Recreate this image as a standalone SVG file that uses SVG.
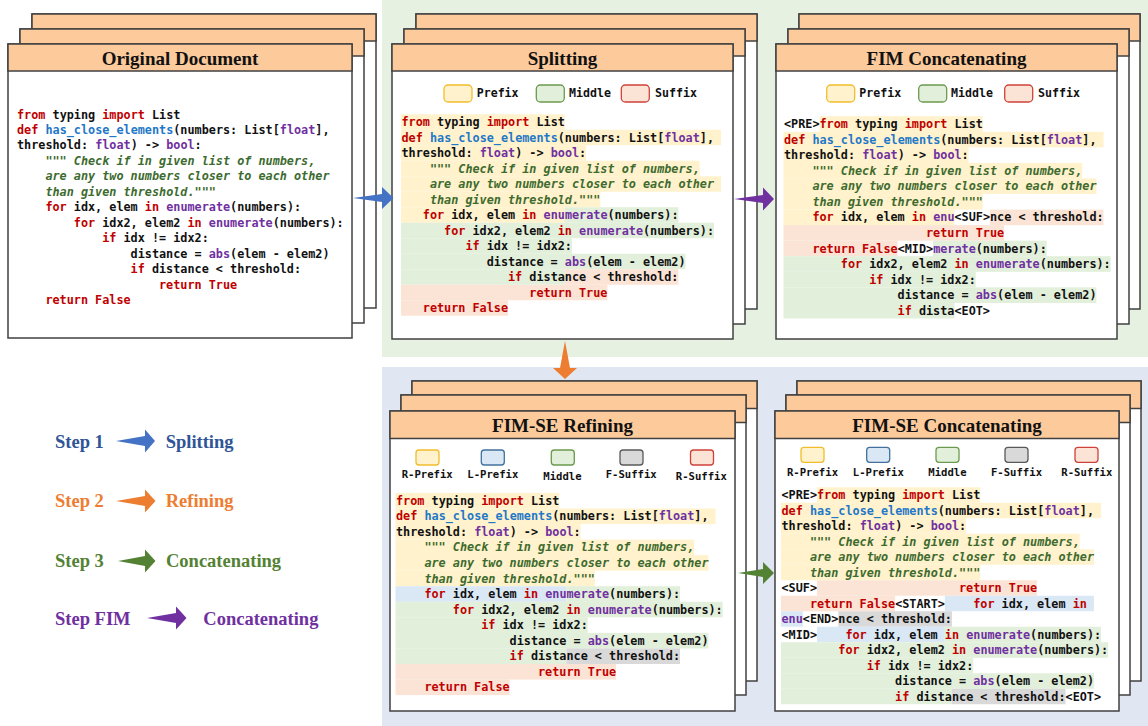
<svg xmlns="http://www.w3.org/2000/svg" width="1148" height="726" viewBox="0 0 1148 726">
<style>
.pg{fill:#fff;stroke:#404040;stroke-width:1.5}
.hd{fill:#fdca9b;stroke:#404040;stroke-width:1.5}
.tt{font-family:"Liberation Serif",serif;font-weight:bold;font-size:19px;fill:#111;text-anchor:middle}
.c{font-family:"DejaVu Sans Mono",monospace;font-size:11.8px;font-weight:bold;fill:#111}
.k{fill:#c00000}.f{fill:#1f78c8}.b{fill:#7030a0}.d{fill:#3d6b2f;font-style:italic}
.hy{fill:#fff2cc}.hg{fill:#e2efda}.hp{fill:#fbe4d5}.hb{fill:#dae8f5}.hx{fill:#d9d9d9}
.lg{font-family:"DejaVu Sans Mono",monospace;font-weight:bold;font-size:11.6px;fill:#111}
.lg2{font-family:"DejaVu Sans Mono",monospace;font-weight:bold;font-size:10.6px;fill:#111;text-anchor:middle}
.sy{fill:#fff2cc;stroke:#f2bd2c;stroke-width:1.3}
.sg{fill:#e2efda;stroke:#6b9a4e;stroke-width:1.3}
.sp{fill:#fbe4d5;stroke:#d0413a;stroke-width:1.3}
.sb{fill:#dae8f5;stroke:#41719c;stroke-width:1.3}
.sx{fill:#d9d9d9;stroke:#595959;stroke-width:1.3}
.st{font-family:"Liberation Serif",serif;font-weight:bold;font-size:18.5px}
</style>
<rect x="382" y="0" width="766" height="357" fill="#e7f1e1"/>
<rect x="382" y="367" width="766" height="359" fill="#e0e7f3"/>

<g id="original">
<rect class="pg" x="32" y="14" width="344" height="294"/><rect class="hd" x="32" y="14" width="344" height="27"/>
<rect class="pg" x="20" y="29" width="344" height="294"/><rect class="hd" x="20" y="29" width="344" height="27"/>
<rect class="pg" x="8" y="44" width="344" height="294"/><rect class="hd" x="8" y="44" width="344" height="27"/>
<text class="tt" x="180" y="65">Original Document</text>
<text class="c" x="17" y="118.5"><tspan class="k">from</tspan> typing <tspan class="k">import</tspan> List</text>
<text class="c" x="17" y="134"><tspan class="k">def</tspan> <tspan class="f">has_close_elements</tspan>(numbers: List[<tspan class="b">float</tspan>],</text>
<text class="c" x="17" y="149.4">threshold: <tspan class="b">float</tspan>) -&gt; <tspan class="b">bool</tspan>:</text>
<text class="c d" x="45.4" y="164.9">""" Check if in given list of numbers,</text>
<text class="c d" x="45.4" y="180.3">are any two numbers closer to each other</text>
<text class="c d" x="45.4" y="195.8">than given threshold."""</text>
<text class="c" x="45.4" y="211.2"><tspan class="k">for</tspan> idx, elem <tspan class="k">in</tspan> <tspan class="b">enumerate</tspan>(numbers):</text>
<text class="c" x="73.8" y="226.7"><tspan class="k">for</tspan> idx2, elem2 <tspan class="k">in</tspan> <tspan class="b">enumerate</tspan>(numbers):</text>
<text class="c" x="102.2" y="242.1"><tspan class="k">if</tspan> idx != idx2:</text>
<text class="c" x="130.6" y="257.6">distance = <tspan class="b">abs</tspan>(elem - elem2)</text>
<text class="c" x="130.6" y="273"><tspan class="k">if</tspan> distance &lt; threshold:</text>
<text class="c k" x="159" y="288.5">return True</text>
<text class="c k" x="45.4" y="303.9">return False</text>
</g>

<g id="splitting">
<rect class="pg" x="416" y="14" width="341" height="295"/><rect class="hd" x="416" y="14" width="341" height="27"/>
<rect class="pg" x="404" y="29" width="341" height="295"/><rect class="hd" x="404" y="29" width="341" height="27"/>
<rect class="pg" x="392" y="44" width="341" height="295"/><rect class="hd" x="392" y="44" width="341" height="27"/>
<text class="tt" x="562.5" y="65">Splitting</text>
<rect class="sy" x="444" y="85" width="28" height="17" rx="4"/><text class="lg" x="476.7" y="97">Prefix</text>
<rect class="sg" x="536.3" y="85" width="28" height="17" rx="4"/><text class="lg" x="569" y="97">Middle</text>
<rect class="sp" x="621.3" y="85" width="28" height="17" rx="4"/><text class="lg" x="655" y="97">Suffix</text>
<rect class="hy" x="401" y="114.25" width="163.8" height="15.5"/>
<rect class="hy" x="401" y="129.75" width="320" height="15.5"/>
<rect class="hy" x="401" y="145.25" width="185.1" height="15.5"/>
<rect class="hy" x="401" y="160.75" width="298.7" height="15.5"/>
<rect class="hy" x="401" y="176.25" width="320" height="15.5"/>
<rect class="hy" x="401" y="191.75" width="199.3" height="15.5"/>
<rect class="hy" x="401" y="207.25" width="163.8" height="15.5"/>
<rect class="hg" x="564.8" y="207.25" width="113.6" height="15.5"/>
<rect class="hg" x="401" y="222.75" width="312.9" height="15.5"/>
<rect class="hg" x="401" y="238.25" width="170.9" height="15.5"/>
<rect class="hg" x="401" y="253.75" width="284.5" height="15.5"/>
<rect class="hg" x="401" y="269.25" width="163.8" height="15.5"/>
<rect class="hp" x="564.8" y="269.25" width="113.6" height="15.5"/>
<rect class="hp" x="401" y="284.75" width="206.4" height="15.5"/>
<rect class="hp" x="401" y="300.25" width="107" height="15.5"/>
<text class="c" x="401.5" y="126"><tspan class="k">from</tspan> typing <tspan class="k">import</tspan> List</text>
<text class="c" x="401.5" y="141.5"><tspan class="k">def</tspan> <tspan class="f">has_close_elements</tspan>(numbers: List[<tspan class="b">float</tspan>],</text>
<text class="c" x="401.5" y="157">threshold: <tspan class="b">float</tspan>) -&gt; <tspan class="b">bool</tspan>:</text>
<text class="c d" x="429.9" y="172.5">""" Check if in given list of numbers,</text>
<text class="c d" x="429.9" y="188">are any two numbers closer to each other</text>
<text class="c d" x="429.9" y="203.5">than given threshold."""</text>
<text class="c" x="422.8" y="219"><tspan class="k">for</tspan> idx, elem <tspan class="k">in</tspan> <tspan class="b">enumerate</tspan>(numbers):</text>
<text class="c" x="444.1" y="234.5"><tspan class="k">for</tspan> idx2, elem2 <tspan class="k">in</tspan> <tspan class="b">enumerate</tspan>(numbers):</text>
<text class="c" x="465.4" y="250"><tspan class="k">if</tspan> idx != idx2:</text>
<text class="c" x="486.7" y="265.5">distance = <tspan class="b">abs</tspan>(elem - elem2)</text>
<text class="c" x="508" y="281"><tspan class="k">if</tspan> distance &lt; threshold:</text>
<text class="c k" x="529.3" y="296.5">return True</text>
<text class="c k" x="422.8" y="312">return False</text>
</g>

<g id="fim-concatenating">
<rect class="pg" x="799" y="14" width="341" height="295"/><rect class="hd" x="799" y="14" width="341" height="27"/>
<rect class="pg" x="788" y="29" width="341" height="295"/><rect class="hd" x="788" y="29" width="341" height="27"/>
<rect class="pg" x="776" y="44" width="341" height="295"/><rect class="hd" x="776" y="44" width="341" height="27"/>
<text class="tt" x="946.5" y="65">FIM Concatenating</text>
<rect class="sy" x="826.7" y="85" width="28" height="17" rx="4"/><text class="lg" x="859.3" y="97">Prefix</text>
<rect class="sg" x="918.7" y="85" width="28" height="17" rx="4"/><text class="lg" x="951" y="97">Middle</text>
<rect class="sp" x="1004.7" y="85" width="28" height="17" rx="4"/><text class="lg" x="1038" y="97">Suffix</text>
<rect class="hy" x="819.5" y="116.2" width="163.3" height="15.6"/>
<rect class="hy" x="783.5" y="131.8" width="320" height="15.6"/>
<rect class="hy" x="783.5" y="147.3" width="185.1" height="15.6"/>
<rect class="hy" x="783.5" y="162.9" width="298.7" height="15.6"/>
<rect class="hy" x="783.5" y="178.4" width="312.9" height="15.6"/>
<rect class="hy" x="783.5" y="194" width="199.3" height="15.6"/>
<rect class="hy" x="783.5" y="209.6" width="170.9" height="15.6"/>
<rect class="hp" x="989.9" y="209.6" width="113.6" height="15.6"/>
<rect class="hp" x="783.5" y="225.1" width="220.6" height="15.6"/>
<rect class="hp" x="783.5" y="240.7" width="114.1" height="15.6"/>
<rect class="hg" x="933.1" y="240.7" width="113.6" height="15.6"/>
<rect class="hg" x="783.5" y="256.2" width="327.1" height="15.6"/>
<rect class="hg" x="783.5" y="271.8" width="192.2" height="15.6"/>
<rect class="hg" x="783.5" y="287.4" width="312.9" height="15.6"/>
<rect class="hg" x="783.5" y="302.9" width="170.9" height="15.6"/>
<text class="c" x="784" y="128">&lt;PRE&gt;<tspan class="k">from</tspan> typing <tspan class="k">import</tspan> List</text>
<text class="c" x="784" y="143.6"><tspan class="k">def</tspan> <tspan class="f">has_close_elements</tspan>(numbers: List[<tspan class="b">float</tspan>],</text>
<text class="c" x="784" y="159.1">threshold: <tspan class="b">float</tspan>) -&gt; <tspan class="b">bool</tspan>:</text>
<text class="c d" x="812.4" y="174.7">""" Check if in given list of numbers,</text>
<text class="c d" x="812.4" y="190.2">are any two numbers closer to each other</text>
<text class="c d" x="812.4" y="205.8">than given threshold."""</text>
<text class="c" x="812.4" y="221.4"><tspan class="k">for</tspan> idx, elem <tspan class="k">in</tspan> <tspan class="b">enu</tspan>&lt;SUF&gt;nce &lt; threshold:</text>
<text class="c k" x="926" y="236.9">return True</text>
<text class="c" x="812.4" y="252.5"><tspan class="k">return False</tspan>&lt;MID&gt;<tspan class="b">merate</tspan>(numbers):</text>
<text class="c" x="840.8" y="268"><tspan class="k">for</tspan> idx2, elem2 <tspan class="k">in</tspan> <tspan class="b">enumerate</tspan>(numbers):</text>
<text class="c" x="869.2" y="283.6"><tspan class="k">if</tspan> idx != idx2:</text>
<text class="c" x="897.6" y="299.2">distance = <tspan class="b">abs</tspan>(elem - elem2)</text>
<text class="c" x="897.6" y="314.7"><tspan class="k">if</tspan> dista&lt;EOT&gt;</text>
</g>

<g id="fim-se-refining">
<rect class="pg" x="412" y="381" width="345" height="300"/><rect class="hd" x="412" y="381" width="345" height="27.5"/>
<rect class="pg" x="401" y="395" width="345" height="300"/><rect class="hd" x="401" y="395" width="345" height="27.5"/>
<rect class="pg" x="390" y="411" width="345" height="300"/><rect class="hd" x="390" y="411" width="345" height="27.5"/>
<text class="tt" x="562.5" y="431.5">FIM-SE Refining</text>
<rect class="sy" x="416" y="450" width="23" height="15" rx="3"/><text class="lg2" x="427.2" y="478">R-Prefix</text>
<rect class="sb" x="481.3" y="450" width="23" height="15" rx="3"/><text class="lg2" x="492.8" y="478">L-Prefix</text>
<rect class="sg" x="551.3" y="450" width="23" height="15" rx="3"/><text class="lg2" x="562.5" y="479.5">Middle</text>
<rect class="sx" x="620" y="450" width="23" height="15" rx="3"/><text class="lg2" x="631.2" y="478">F-Suffix</text>
<rect class="sp" x="690.5" y="450" width="23" height="15" rx="3"/><text class="lg2" x="701.3" y="479.5">R-Suffix</text>
<rect class="hy" x="395.5" y="492.9" width="163.8" height="15.6"/>
<rect class="hy" x="395.5" y="508.5" width="320" height="15.6"/>
<rect class="hy" x="395.5" y="524" width="185.1" height="15.6"/>
<rect class="hy" x="395.5" y="539.6" width="298.7" height="15.6"/>
<rect class="hy" x="395.5" y="555.1" width="312.9" height="15.6"/>
<rect class="hy" x="395.5" y="570.7" width="199.3" height="15.6"/>
<rect class="hb" x="395.5" y="586.2" width="170.9" height="15.6"/>
<rect class="hg" x="566.4" y="586.2" width="113.6" height="15.6"/>
<rect class="hg" x="395.5" y="601.8" width="327.1" height="15.6"/>
<rect class="hg" x="395.5" y="617.3" width="192.2" height="15.6"/>
<rect class="hg" x="395.5" y="632.9" width="312.9" height="15.6"/>
<rect class="hg" x="395.5" y="648.4" width="170.9" height="15.6"/>
<rect class="hx" x="566.4" y="648.4" width="113.6" height="15.6"/>
<rect class="hp" x="395.5" y="664" width="220.6" height="15.6"/>
<rect class="hp" x="395.5" y="679.5" width="114.1" height="15.6"/>
<text class="c" x="396" y="504.7"><tspan class="k">from</tspan> typing <tspan class="k">import</tspan> List</text>
<text class="c" x="396" y="520.3"><tspan class="k">def</tspan> <tspan class="f">has_close_elements</tspan>(numbers: List[<tspan class="b">float</tspan>],</text>
<text class="c" x="396" y="535.8">threshold: <tspan class="b">float</tspan>) -&gt; <tspan class="b">bool</tspan>:</text>
<text class="c d" x="424.4" y="551.4">""" Check if in given list of numbers,</text>
<text class="c d" x="424.4" y="566.9">are any two numbers closer to each other</text>
<text class="c d" x="424.4" y="582.5">than given threshold."""</text>
<text class="c" x="424.4" y="598"><tspan class="k">for</tspan> idx, elem <tspan class="k">in</tspan> <tspan class="b">enumerate</tspan>(numbers):</text>
<text class="c" x="452.8" y="613.6"><tspan class="k">for</tspan> idx2, elem2 <tspan class="k">in</tspan> <tspan class="b">enumerate</tspan>(numbers):</text>
<text class="c" x="481.2" y="629.1"><tspan class="k">if</tspan> idx != idx2:</text>
<text class="c" x="509.6" y="644.7">distance = <tspan class="b">abs</tspan>(elem - elem2)</text>
<text class="c" x="509.6" y="660.2"><tspan class="k">if</tspan> distance &lt; threshold:</text>
<text class="c k" x="538" y="675.8">return True</text>
<text class="c k" x="424.4" y="691.3">return False</text>
</g>

<g id="fim-se-concatenating">
<rect class="pg" x="797" y="381" width="344" height="300"/><rect class="hd" x="797" y="381" width="344" height="27.5"/>
<rect class="pg" x="786" y="395" width="344" height="300"/><rect class="hd" x="786" y="395" width="344" height="27.5"/>
<rect class="pg" x="775" y="411" width="344" height="300"/><rect class="hd" x="775" y="411" width="344" height="27.5"/>
<text class="tt" x="947" y="431.5">FIM-SE Concatenating</text>
<rect class="sy" x="801" y="447.3" width="23" height="15" rx="3"/><text class="lg2" x="812.5" y="476">R-Prefix</text>
<rect class="sb" x="866.7" y="447.3" width="23" height="15" rx="3"/><text class="lg2" x="878.3" y="476">L-Prefix</text>
<rect class="sg" x="936" y="447.3" width="23" height="15" rx="3"/><text class="lg2" x="947.5" y="476">Middle</text>
<rect class="sx" x="1005" y="447.3" width="23" height="15" rx="3"/><text class="lg2" x="1016.5" y="476">F-Suffix</text>
<rect class="sp" x="1075" y="447.3" width="23" height="15" rx="3"/><text class="lg2" x="1086.8" y="476">R-Suffix</text>
<rect class="hy" x="817" y="487.25" width="163.3" height="15.5"/>
<rect class="hy" x="781" y="502.75" width="320" height="15.5"/>
<rect class="hy" x="781" y="518.25" width="185.1" height="15.5"/>
<rect class="hy" x="781" y="533.75" width="298.7" height="15.5"/>
<rect class="hy" x="781" y="549.25" width="312.9" height="15.5"/>
<rect class="hy" x="781" y="564.75" width="199.3" height="15.5"/>
<rect class="hp" x="817" y="580.25" width="220.1" height="15.5"/>
<rect class="hp" x="781" y="595.75" width="114.1" height="15.5"/>
<rect class="hb" x="944.8" y="595.75" width="149.1" height="15.5"/>
<rect class="hb" x="781" y="611.25" width="21.8" height="15.5"/>
<rect class="hx" x="838.3" y="611.25" width="113.6" height="15.5"/>
<rect class="hb" x="817" y="626.75" width="127.8" height="15.5"/>
<rect class="hg" x="944.8" y="626.75" width="156.2" height="15.5"/>
<rect class="hg" x="781" y="642.25" width="327.1" height="15.5"/>
<rect class="hg" x="781" y="657.75" width="192.2" height="15.5"/>
<rect class="hg" x="781" y="673.25" width="312.9" height="15.5"/>
<rect class="hg" x="781" y="688.75" width="170.9" height="15.5"/>
<rect class="hx" x="951.9" y="688.75" width="113.6" height="15.5"/>
<text class="c" x="781.5" y="499">&lt;PRE&gt;<tspan class="k">from</tspan> typing <tspan class="k">import</tspan> List</text>
<text class="c" x="781.5" y="514.5"><tspan class="k">def</tspan> <tspan class="f">has_close_elements</tspan>(numbers: List[<tspan class="b">float</tspan>],</text>
<text class="c" x="781.5" y="530">threshold: <tspan class="b">float</tspan>) -&gt; <tspan class="b">bool</tspan>:</text>
<text class="c d" x="809.9" y="545.5">""" Check if in given list of numbers,</text>
<text class="c d" x="809.9" y="561">are any two numbers closer to each other</text>
<text class="c d" x="809.9" y="576.5">than given threshold."""</text>
<text class="c" x="781.5" y="592">&lt;SUF&gt;</text>
<text class="c k" x="959" y="592">return True</text>
<text class="c" x="809.9" y="607.5"><tspan class="k">return False</tspan>&lt;START&gt;</text>
<text class="c" x="973.2" y="607.5"><tspan class="k">for</tspan> idx, elem <tspan class="k">in</tspan></text>
<text class="c" x="781.5" y="623"><tspan class="b">enu</tspan>&lt;END&gt;nce &lt; threshold:</text>
<text class="c" x="781.5" y="638.5">&lt;MID&gt;</text>
<text class="c" x="845.4" y="638.5"><tspan class="k">for</tspan> idx, elem <tspan class="k">in</tspan> <tspan class="b">enumerate</tspan>(numbers):</text>
<text class="c" x="838.3" y="654"><tspan class="k">for</tspan> idx2, elem2 <tspan class="k">in</tspan> <tspan class="b">enumerate</tspan>(numbers):</text>
<text class="c" x="866.7" y="669.5"><tspan class="k">if</tspan> idx != idx2:</text>
<text class="c" x="895.1" y="685">distance = <tspan class="b">abs</tspan>(elem - elem2)</text>
<text class="c" x="895.1" y="700.5"><tspan class="k">if</tspan> distance &lt; threshold:&lt;EOT&gt;</text>
</g>

<g id="connectors">
<polygon points="353,198 382,194 382,187 393.5,198 382,209 382,202" fill="#4472c4"/>
<polygon points="734,199 763,195 763,187.5 774,199 763,210.5 763,203" fill="#7030a0"/>
<polygon points="565,341 570,368 577,368 565,379 553,368 560,368" fill="#ed7d31"/>
<polygon points="738,573 763,569 763,562 774,573 763,584 763,577" fill="#548235"/>
</g>

<g id="legend">
<text class="st" x="55" y="448" fill="#2f5597">Step 1</text>
<polygon points="116,441 145,436 145,429.5 155,441 145,452.5 145,446" fill="#4472c4"/>
<text class="st" x="165.7" y="448" fill="#2f5597">Splitting</text>
<text class="st" x="55" y="507" fill="#ed7d31">Step 2</text>
<polygon points="116,501 145,496 145,489.5 155.5,501 145,512.5 145,506" fill="#ed7d31"/>
<text class="st" x="165.7" y="507" fill="#ed7d31">Refining</text>
<text class="st" x="55" y="567" fill="#548235">Step 3</text>
<polygon points="118,561 145,556 145,549.5 155.5,561 145,572.5 145,566" fill="#548235"/>
<text class="st" x="166" y="567" fill="#548235">Concatenating</text>
<text class="st" x="55" y="624.5" fill="#7030a0">Step FIM</text>
<polygon points="147,618 176,613 176,606.5 186.5,618 176,629.5 176,623" fill="#7030a0"/>
<text class="st" x="203.3" y="624.5" fill="#7030a0">Concatenating</text>
</g>
</svg>
